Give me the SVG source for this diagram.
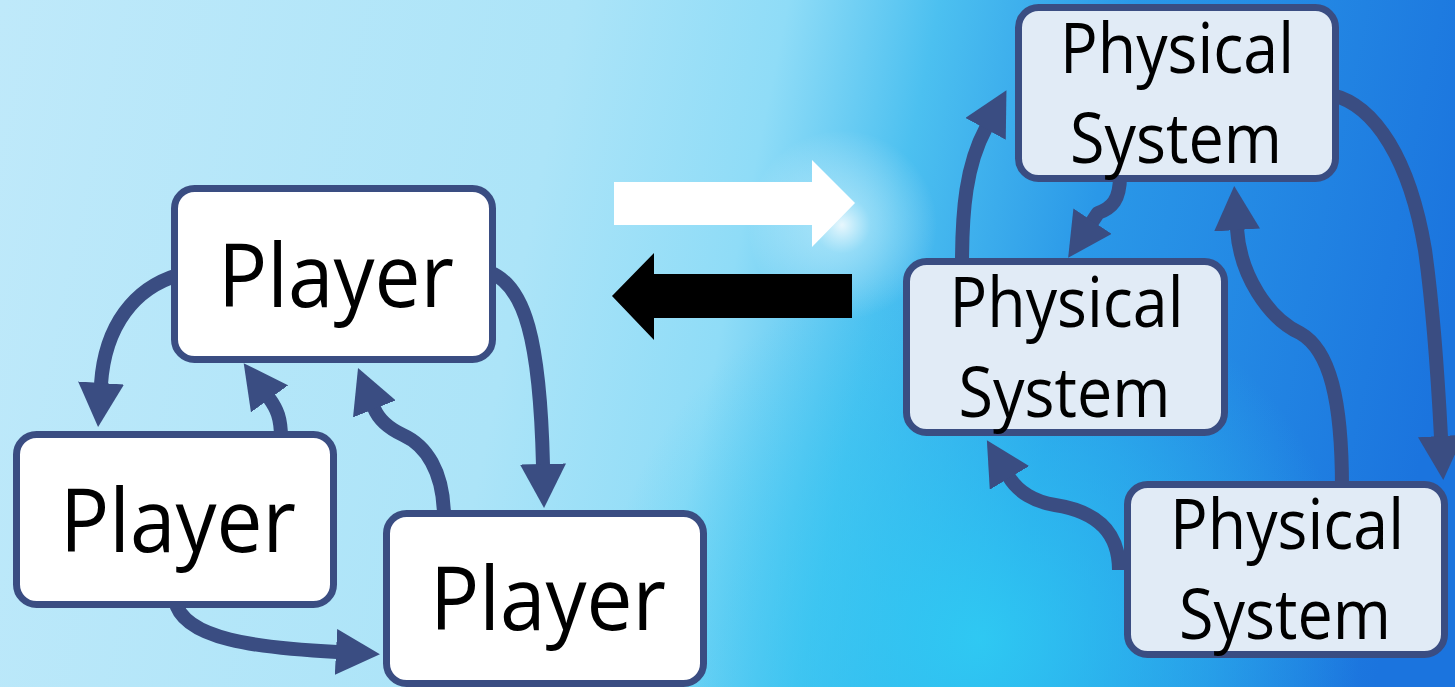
<svg xmlns="http://www.w3.org/2000/svg" width="1455" height="687" viewBox="0 0 1455 687">
<defs>
<linearGradient id="bg" x1="0" y1="0" x2="1455" y2="300" gradientUnits="userSpaceOnUse">
<stop offset="0" stop-color="#bfe9fa"/>
<stop offset="0.38" stop-color="#ace4f8"/>
<stop offset="0.52" stop-color="#8fdcf7"/>
<stop offset="0.62" stop-color="#4cc0f0"/>
<stop offset="0.75" stop-color="#2a98e8"/>
<stop offset="1" stop-color="#1b74de"/>
</linearGradient>
<radialGradient id="cyan" cx="980" cy="640" r="380" gradientUnits="userSpaceOnUse">
<stop offset="0" stop-color="#2fd0f4" stop-opacity="0.85"/>
<stop offset="0.6" stop-color="#2fc8f2" stop-opacity="0.4"/>
<stop offset="1" stop-color="#2fc8f2" stop-opacity="0"/>
</radialGradient>
<radialGradient id="glow" cx="842" cy="225" r="95" gradientUnits="userSpaceOnUse">
<stop offset="0" stop-color="#ffffff" stop-opacity="0.85"/>
<stop offset="0.3" stop-color="#e8fbff" stop-opacity="0.4"/>
<stop offset="1" stop-color="#ffffff" stop-opacity="0"/>
</radialGradient>
<marker id="ah" viewBox="0 0 44 46" markerWidth="44" markerHeight="46" refX="1" refY="23" orient="auto" markerUnits="userSpaceOnUse">
<path d="M0,0 L44,23 L0,46 Z" fill="#3a4d82"/>
</marker>
</defs>
<style>
.box{stroke:#3a4d82;stroke-width:7}
.player{fill:#ffffff}
.phys{fill:#e1ebf6}
.conn{fill:none;stroke:#3a4d82;stroke-width:14;stroke-linejoin:round;marker-end:url(#ah)}
.lbl{font-family:"Open Sans","Noto Sans",sans-serif;fill:#000;text-anchor:middle}
.pl{font-size:87px}
.ps{font-size:70px}
</style>
<rect x="0" y="0" width="1455" height="687" fill="url(#bg)"/>
<rect x="0" y="0" width="1455" height="687" fill="url(#cyan)"/>
<rect x="0" y="0" width="1455" height="687" fill="url(#glow)"/>
<g id="exchange-arrows">
<polygon points="614,182 812,182 812,160 855,203 812,247 812,225 614,225" fill="#ffffff"/>
<polygon points="852,274 654,274 654,253 612,296 654,340 654,318 852,318" fill="#000000"/>
</g>
<g id="connectors">
<path class="conn" d="M178 275 C135 288,105 325,101 384"/>
<path class="conn" d="M281 438 C281 418,277 409,269 398"/>
<path class="conn" d="M444 518 C444 470,425 445,403 435 C388 428,378 418,374 408"/>
<path class="conn" d="M489 272 C525 285,540 340,543 465"/>
<path class="conn" d="M175 600 C182 640,260 648,337 652"/>
<path class="conn" d="M962 265 C962 210,966 165,986 128"/>
<path class="conn" d="M1120 176 C1120 200,1112 208,1098 213 L1092 222"/>
<path class="conn" d="M1342 488 C1342 400,1330 350,1300 333 C1268 318,1240 275,1237 229"/>
<path class="conn" d="M1332 95 C1375 105,1410 160,1425 250 C1432 300,1438 380,1441 437"/>
<path class="conn" d="M1119 570 C1119 535,1100 512,1055 505 C1035 502,1018 492,1009 477"/>
</g>
<g id="player-top">
<rect class="box player" x="174.5" y="188.5" width="318" height="171" rx="20"/>
<text class="lbl pl" x="336" y="307" textLength="236" lengthAdjust="spacingAndGlyphs">Player</text>
</g>
<g id="player-left">
<rect class="box player" x="16.5" y="434.5" width="317" height="170" rx="20"/>
<text class="lbl pl" x="178" y="552" textLength="236" lengthAdjust="spacingAndGlyphs">Player</text>
</g>
<g id="player-bottom">
<rect class="box player" x="386.5" y="513.5" width="317" height="170" rx="20"/>
<text class="lbl pl" x="548" y="630" textLength="236" lengthAdjust="spacingAndGlyphs">Player</text>
</g>
<g id="physical-top">
<rect class="box phys" x="1018.5" y="7.5" width="317" height="171" rx="20"/>
<text class="lbl ps" x="1177" y="73" textLength="234" lengthAdjust="spacingAndGlyphs">Physical</text>
<text class="lbl ps" x="1176" y="163" textLength="212" lengthAdjust="spacingAndGlyphs">System</text>
</g>
<g id="physical-middle">
<rect class="box phys" x="906.5" y="261.5" width="318" height="171" rx="20"/>
<text class="lbl ps" x="1066.5" y="327" textLength="234" lengthAdjust="spacingAndGlyphs">Physical</text>
<text class="lbl ps" x="1064.5" y="417" textLength="212" lengthAdjust="spacingAndGlyphs">System</text>
</g>
<g id="physical-bottom">
<rect class="box phys" x="1127.5" y="484.5" width="317" height="170" rx="20"/>
<text class="lbl ps" x="1287" y="549" textLength="234" lengthAdjust="spacingAndGlyphs">Physical</text>
<text class="lbl ps" x="1285" y="639" textLength="212" lengthAdjust="spacingAndGlyphs">System</text>
</g>
</svg>
